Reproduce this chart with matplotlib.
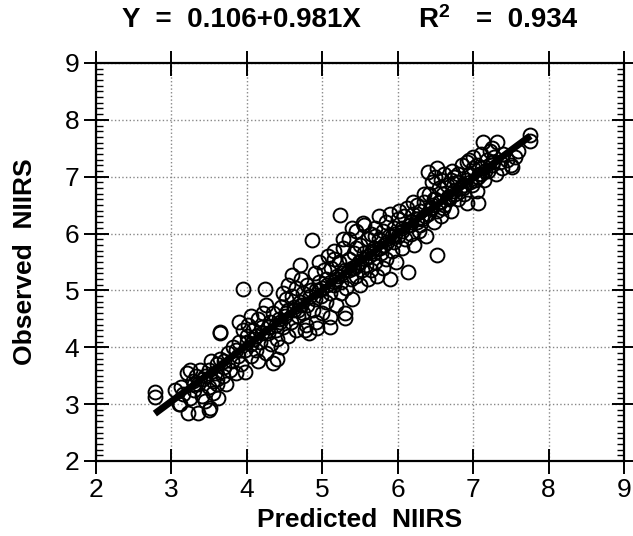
import matplotlib
matplotlib.use("Agg")
import matplotlib.pyplot as plt
from matplotlib.ticker import MultipleLocator

plt.rcParams['font.family'] = ['Liberation Sans', 'DejaVu Sans']
plt.rcParams['mathtext.fontset'] = 'custom'
plt.rcParams['mathtext.rm'] = 'Liberation Sans'
plt.rcParams['mathtext.bf'] = 'Liberation Sans:bold'

# Regression line
intercept = 0.106
slope = 0.981
line_x = [2.78, 7.76]

title_eq = "Y  =  0.106+0.981X"
title_r2 = r"$\mathbf{R^2}$"
title_val = "=  0.934"
x_label = "Predicted  NIIRS"
y_label = "Observed  NIIRS"
ticks = [2, 3, 4, 5, 6, 7, 8, 9]

pred = [2.78, 2.78, 3.05, 3.10, 3.12, 3.15, 3.20, 3.22, 3.25, 3.25, 3.28, 3.30, 3.32, 3.35, 3.35,
        3.38, 3.40, 3.42, 3.45, 3.50, 3.50, 3.50, 3.52, 3.55, 3.55, 3.58, 3.60, 3.60, 3.62, 3.65,
        3.65, 3.68, 3.70, 3.72, 3.75, 3.78, 3.80, 3.82, 3.85, 3.88, 3.90, 3.92, 3.95, 3.95, 3.98,
        3.98, 4.00, 4.02, 4.05, 4.05, 4.08, 4.10, 4.12, 4.15, 4.18, 4.20, 4.22, 4.24, 4.25, 4.28,
        4.30, 4.32, 4.35, 4.35, 4.38, 4.40, 4.42, 4.45, 4.45, 4.48, 4.50, 4.52, 4.55, 4.55, 4.58,
        4.60, 4.60, 4.62, 4.65, 4.65, 4.68, 4.70, 4.72, 4.75, 4.75, 4.78, 4.80, 4.80, 4.82, 4.85,
        4.86, 4.88, 4.90, 4.90, 4.92, 4.95, 4.95, 4.98, 5.00, 5.00, 5.02, 5.05, 5.05, 5.08, 5.10,
        5.10, 5.12, 5.15, 5.15, 5.18, 5.20, 5.22, 5.24, 5.25, 5.25, 5.28, 5.30, 5.30, 5.32, 5.35,
        5.35, 5.38, 5.40, 5.40, 5.42, 5.45, 5.45, 5.48, 5.50, 5.50, 5.52, 5.55, 5.55, 5.58, 5.60,
        5.60, 5.62, 5.65, 5.65, 5.68, 5.70, 5.70, 5.72, 5.75, 5.75, 5.78, 5.80, 5.80, 5.82, 5.85,
        5.85, 5.88, 5.90, 5.90, 5.92, 5.95, 5.95, 5.98, 6.00, 6.00, 6.02, 6.05, 6.05, 6.08, 6.10,
        6.12, 6.14, 6.15, 6.18, 6.20, 6.22, 6.25, 6.25, 6.28, 6.30, 6.32, 6.35, 6.38, 6.40, 6.40,
        6.42, 6.45, 6.45, 6.48, 6.50, 6.50, 6.52, 6.52, 6.52, 6.55, 6.55, 6.58, 6.58, 6.60, 6.62,
        6.62, 6.65, 6.68, 6.70, 6.70, 6.72, 6.75, 6.78, 6.80, 6.80, 6.82, 6.85, 6.88, 6.90, 6.92,
        6.92, 6.95, 6.98, 7.00, 7.00, 7.02, 7.05, 7.07, 7.08, 7.10, 7.12, 7.13, 7.15, 7.18, 7.20,
        7.22, 7.25, 7.28, 7.30, 7.32, 7.35, 7.38, 7.40, 7.45, 7.50, 7.52, 7.55, 7.60, 7.76, 7.76,
        4.77, 4.93, 5.30, 5.10, 5.40, 5.28, 5.54, 3.64, 3.11, 3.51, 4.40, 4.15, 3.90, 4.55, 4.70,
        4.25, 4.05, 4.48, 5.15, 5.45, 5.70, 6.20, 6.35, 6.60, 6.75, 6.95, 7.25, 7.05, 6.48, 6.30,
        3.45, 3.70, 3.85, 4.00, 4.12, 4.28, 4.38, 4.52, 4.62, 4.72, 4.84, 4.96, 5.06, 5.16, 5.26,
        5.36, 5.46, 5.56, 5.66, 5.76, 5.86, 5.96, 6.06, 6.16, 6.26, 6.36, 6.46, 6.56, 6.66, 6.76,
        6.86, 6.96, 7.06, 7.16, 7.26, 4.20, 4.44, 4.68, 4.92, 5.18, 5.42, 5.68, 5.92, 6.18, 6.44,
        6.68, 6.88, 7.10, 3.60, 3.30]

obs = [3.22, 3.12, 3.25, 3.00, 3.30, 3.18, 3.55, 2.85, 3.60, 3.10, 3.40, 3.25, 3.50, 2.85, 3.35,
       3.60, 3.15, 3.45, 3.05, 2.90, 3.30, 3.60, 3.75, 3.40, 3.20, 3.55, 3.70, 3.35, 3.10, 4.25,
       3.80, 3.50, 3.65, 3.35, 3.90, 3.60, 3.75, 4.00, 3.55, 3.85, 4.10, 3.70, 5.03, 4.30, 3.57,
       3.95, 4.20, 4.40, 3.85, 4.05, 4.30, 4.15, 3.95, 4.50, 4.10, 4.35, 4.60, 5.03, 3.90, 4.25,
       4.45, 4.05, 3.73, 4.60, 4.30, 4.15, 4.50, 4.70, 4.00, 4.35, 4.55, 4.85, 4.20, 4.65, 4.45,
       5.27, 4.90, 4.70, 4.30, 5.05, 4.55, 4.80, 5.20, 4.60, 4.95, 4.40, 5.10, 4.75, 4.25, 5.00,
       5.89, 4.65, 5.30, 4.85, 4.45, 5.15, 5.50, 4.90, 5.05, 4.60, 5.35, 4.80, 5.20, 5.60, 4.95,
       4.35, 5.40, 5.10, 5.70, 4.75, 5.25, 5.50, 6.33, 4.95, 5.15, 5.75, 5.35, 4.60, 5.05, 5.55,
       5.90, 5.20, 5.40, 4.85, 5.65, 5.25, 6.05, 5.50, 5.80, 5.10, 5.35, 5.65, 6.15, 5.45, 5.90,
       5.20, 5.60, 6.00, 5.35, 5.75, 6.10, 5.50, 5.25, 5.90, 6.30, 5.65, 6.05, 5.40, 5.80, 6.20,
       5.55, 5.95, 5.20, 6.35, 5.70, 6.10, 5.85, 5.50, 6.25, 5.95, 6.40, 5.75, 6.10, 6.30, 5.90,
       6.45, 5.33, 6.15, 6.00, 6.35, 5.80, 6.20, 6.50, 6.05, 6.40, 6.25, 6.55, 5.95, 7.08, 6.35,
       6.70, 6.50, 6.90, 6.20, 6.60, 7.00, 7.15, 5.63, 6.40, 6.80, 6.55, 6.95, 6.30, 6.70, 7.05,
       6.50, 6.85, 6.60, 6.95, 6.40, 7.10, 6.75, 6.90, 6.60, 7.05, 6.80, 7.20, 6.70, 6.95, 6.54,
       7.25, 7.05, 6.85, 7.15, 7.35, 6.95, 7.20, 6.54, 7.05, 7.40, 7.15, 7.61, 6.95, 7.30, 7.10,
       7.45, 7.20, 7.35, 7.05, 7.61, 7.25, 7.15, 7.40, 7.30, 7.20, 7.17, 7.35, 7.45, 7.73, 7.62,
       4.31, 4.34, 4.52, 4.54, 6.10, 5.90, 6.19, 4.27, 3.00, 2.94, 3.80, 3.75, 4.45, 5.10, 5.45,
       4.75, 4.55, 4.95, 5.55, 5.75, 5.95, 6.55, 6.70, 6.45, 7.00, 7.30, 7.50, 6.75, 6.60, 6.15,
       3.50, 3.75, 3.95, 4.10, 4.20, 4.35, 4.40, 4.60, 4.65, 4.75, 4.90, 5.00, 5.10, 5.15, 5.30,
       5.35, 5.45, 5.55, 5.70, 5.75, 5.85, 6.00, 6.05, 6.15, 6.25, 6.30, 6.45, 6.55, 6.65, 6.70,
       6.80, 6.90, 7.00, 7.10, 7.25, 4.25, 4.45, 4.65, 5.00, 5.20, 5.40, 5.65, 5.95, 6.20, 6.45,
       6.65, 6.85, 7.05, 3.45, 3.35]

fig = plt.figure(figsize=(6.33, 5.36), dpi=100)
ax = fig.add_axes([0.1517, 0.140, 0.8341, 0.7425])

ax.plot(pred, obs, linestyle='none', marker='o', markersize=10,
        markerfacecolor='none', markeredgecolor='black', markeredgewidth=1.4, zorder=3)
line_y = [intercept + slope * v for v in line_x]
ax.plot(line_x, line_y, color='black', linewidth=5, solid_capstyle='butt', zorder=4)

ax.set_xlim(2, 9)
ax.set_ylim(2, 9)
ax.set_xticks(ticks)
ax.set_yticks(ticks)
ax.yaxis.set_minor_locator(MultipleLocator(0.1))

ax.grid(True, which='major', color='#888888', linestyle=':', linewidth=1.0)
ax.tick_params(which='major', direction='inout', length=18, width=1.4,
               top=True, right=True, labelsize=19, pad=3)
ax.tick_params(axis='y', which='minor', direction='in', length=5, width=1.0,
               left=True, right=True)
ax.tick_params(axis='x', which='minor', bottom=False, top=False)
for s in ax.spines.values():
    s.set_linewidth(1.6)

ax.set_xlabel(x_label, fontsize=19, fontweight='bold')
ax.xaxis.set_label_coords(0.5, -0.118)
ax.set_ylabel(y_label, fontsize=19, fontweight='bold')
ax.yaxis.set_label_coords(-0.112, 0.5)

fig.text(122 / 633, 1 - 20 / 536, title_eq, fontsize=20, fontweight='bold',
         ha='left', va='center')
fig.text(418 / 633, 1 - 20 / 536, title_r2, fontsize=20, fontweight='bold',
         ha='left', va='center')
fig.text(577 / 633, 1 - 20 / 536, title_val, fontsize=20, fontweight='bold',
         ha='right', va='center')

fig.savefig("out.png", dpi=100)
